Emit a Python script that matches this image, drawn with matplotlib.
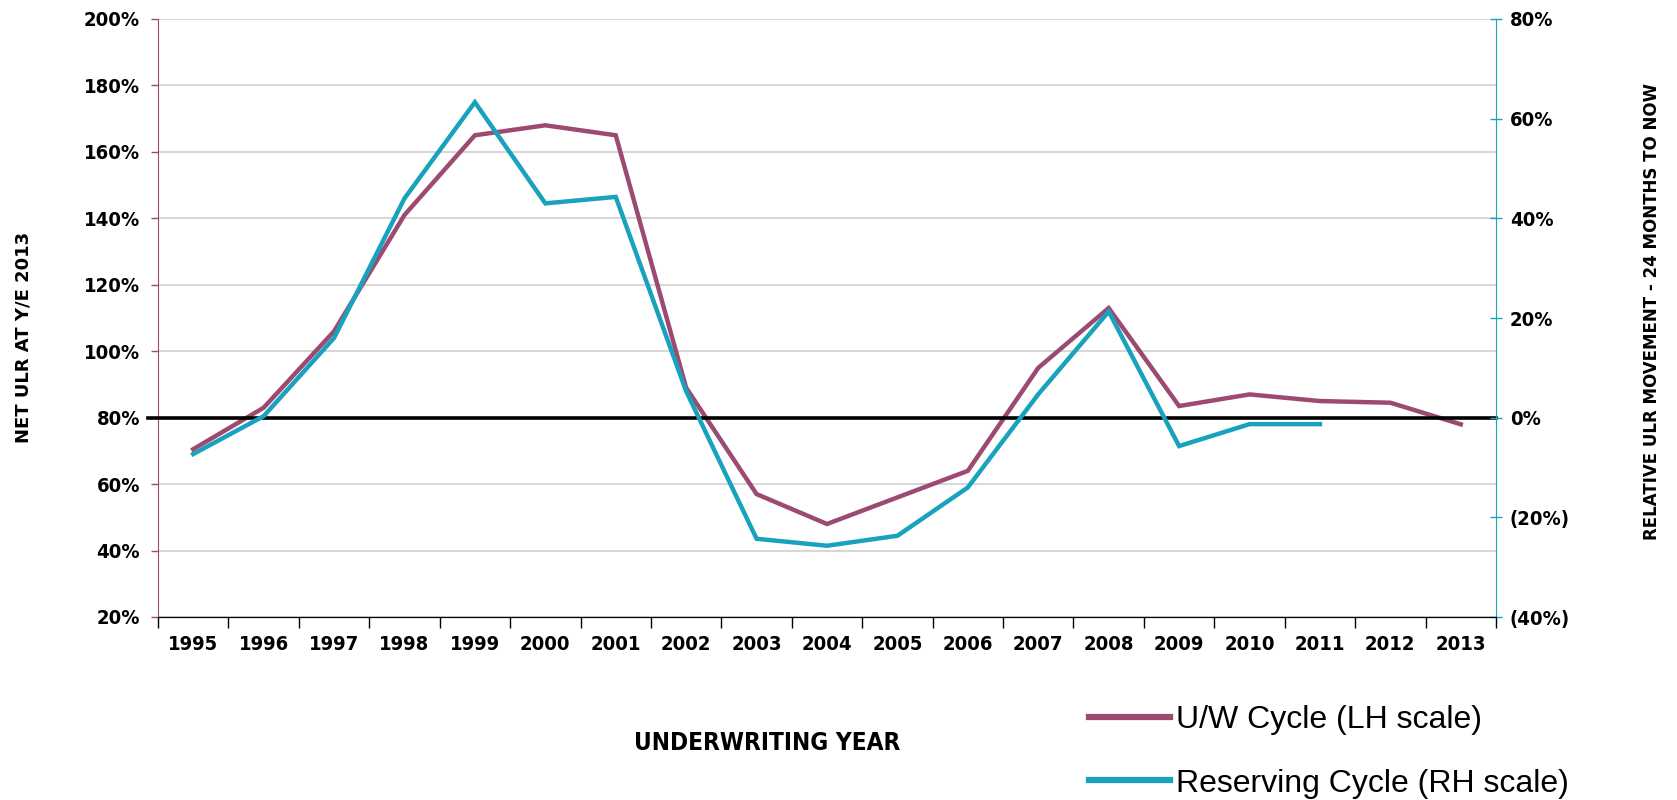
import matplotlib
matplotlib.use("Agg")
import matplotlib.pyplot as plt
import numpy as np

years = [str(y) for y in range(1995, 2014)]
uw_cycle = [70.5, 83, 106, 141, 165, 168, 165, 89, 57, 48, 56, 64, 95, 113, 83.5, 87, 85, 84.5, 78]
reserving = [-7.3, 0.3, 16, 44, 63.3, 43, 44.3, 5.3, -24.3, -25.7, -23.7, -14, 4.7, 21.3, -5.7, -1.3, -1.3]

left_ticks = list(range(20, 201, 20))
right_ticks = list(range(-40, 81, 20))

MAUVE = "#9c4a72"
TEAL = "#19a2bd"
tick_font = dict(fontsize=14.5, fontweight="bold", family="DejaVu Sans", fontstretch="condensed")

fig = plt.figure(figsize=(16.77, 8), dpi=100)
W, H = 1677, 800
ax = fig.add_axes([158 / W, 1 - 617 / H, (1496 - 158) / W, (617 - 19) / H])
ax2 = ax.twinx()

x = np.arange(len(years))
ax.plot(x, uw_cycle, color=MAUVE, lw=3.2, solid_joinstyle="miter", zorder=3)
ax2.plot(x[:len(reserving)], reserving, color=TEAL, lw=3.2, solid_joinstyle="miter", zorder=3)
ax.axhline(80, xmin=-10 / 1338, color="black", lw=2.6, zorder=4, clip_on=False)

ax.set_xlim(-0.5, len(years) - 0.5)
ax.set_ylim(20, 200)
ax2.set_ylim(-40, 80)

ax.set_yticks(left_ticks)
ax.set_yticklabels([f"{t}%" for t in left_ticks], **tick_font)
ax.yaxis.grid(True, color="#d0d0d0", lw=1.2)
ax.set_axisbelow(True)
ax.tick_params(axis="y", colors=MAUVE, length=5, width=1, labelcolor="black", pad=8)

ax2.set_yticks(right_ticks)
ax2.set_yticklabels([f"({-t}%)" if t < 0 else f"{t}%" for t in right_ticks], **tick_font)
ax2.tick_params(axis="y", colors=TEAL, direction="inout", length=8, width=1,
                labelcolor="black", pad=6)

# category axis: ticks on the boundaries, labels in the middle
ax.set_xticks(np.arange(-0.5, len(years), 1.0))
ax.set_xticklabels([])
ax.set_xticks(x, minor=True)
ax.set_xticklabels(years, minor=True, **tick_font)
ax.tick_params(axis="x", which="major", length=8, width=1, color="black")
ax.tick_params(axis="x", which="minor", length=0, pad=13)

for a in (ax, ax2):
    a.spines["top"].set_visible(False)
    a.spines["bottom"].set_color("black")
ax.spines["right"].set_visible(False)
ax.spines["left"].set_color(MAUVE)
ax2.spines["left"].set_visible(False)
ax2.spines["right"].set_color(TEAL)

fig.text(24 / W, 1 - 337 / H, "NET ULR AT Y/E 2013", rotation=90, ha="center", va="center",
         fontsize=13, fontweight="bold")
fig.text(1652 / W, 1 - 312 / H, "RELATIVE ULR MOVEMENT - 24 MONTHS TO NOW", rotation=90,
         ha="center", va="center", fontsize=12, fontweight="bold")
fig.text(767 / W, 1 - 743 / H, "UNDERWRITING YEAR", ha="center", va="center",
         fontsize=17.5, fontweight="bold", family="DejaVu Sans", fontstretch="condensed")

h1 = plt.Line2D([], [], color=MAUVE, lw=4.5)
h2 = plt.Line2D([], [], color=TEAL, lw=4.5)
fig.legend([h1, h2], ["U/W Cycle (LH scale)", "Reserving Cycle (RH scale)"],
           loc="upper left", bbox_to_anchor=(1089 / W, 1 - 705 / H), frameon=False,
           prop={"family": "Liberation Sans", "size": 23}, handlelength=2.55,
           handletextpad=0.17, labelspacing=1.05, borderpad=0, borderaxespad=0)

fig.savefig("out.png", dpi=100)
